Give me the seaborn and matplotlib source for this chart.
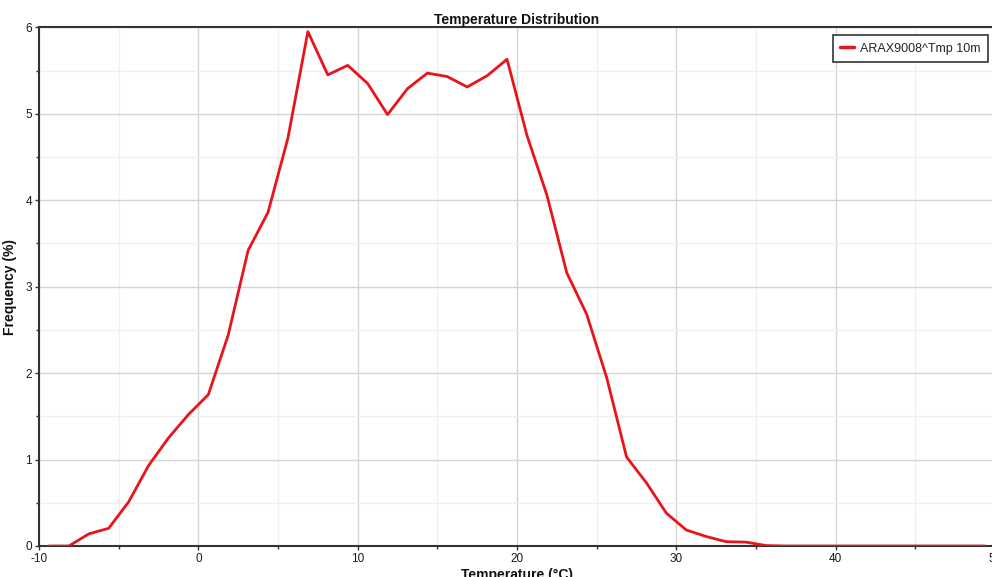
import numpy as np
import pandas as pd
import matplotlib
matplotlib.use("Agg")
import matplotlib.pyplot as plt
import seaborn as sns
from matplotlib.ticker import MultipleLocator

# Bin centres (°C) and frequencies (%)
temperature = [-9.375, -8.125, -6.875, -5.625, -4.375, -3.125, -1.875, -0.625,
               0.625, 1.875, 3.125, 4.375, 5.625, 6.875, 8.125, 9.375,
               10.625, 11.875, 13.125, 14.375, 15.625, 16.875, 18.125, 19.375,
               20.625, 21.875, 23.125, 24.375, 25.625, 26.875, 28.125, 29.375,
               30.625, 31.875, 33.125, 34.375, 35.625, 36.875, 38.125, 39.375,
               40.625, 41.875, 43.125, 44.375, 45.625, 46.875, 48.125, 49.375]
frequency = [0.0, 0.0, 0.14, 0.205, 0.51, 0.93, 1.25, 1.52,
             1.75, 2.44, 3.42, 3.86, 4.72, 5.95, 5.45, 5.56,
             5.35, 4.99, 5.29, 5.47, 5.43, 5.31, 5.44, 5.63,
             4.75, 4.06, 3.16, 2.68, 1.95, 1.03, 0.73, 0.38,
             0.185, 0.11, 0.05, 0.045, 0.005, 0.0, 0.0, 0.0,
             0.0, 0.0, 0.0, 0.0, 0.0, 0.0, 0.0, 0.0]
series_name = "ARAX9008^Tmp 10m"
x_ticks = [-10, 0, 10, 20, 30, 40, 50]
y_ticks = [0, 1, 2, 3, 4, 5, 6]

df = pd.DataFrame({"Temperature": temperature, "Frequency": frequency,
                   "Series": series_name})

sns.set_style("white")
plt.rcParams['font.family'] = ['Liberation Sans', 'DejaVu Sans']
plt.rcParams['axes.unicode_minus'] = False

fig = plt.figure(figsize=(9.92, 5.77), dpi=100)
ax = fig.add_axes([39 / 992, 31 / 577, (995 - 39) / 992, (546 - 27.3) / 577])

sns.lineplot(data=df, x="Temperature", y="Frequency", hue="Series",
             palette=["#e8141c"], linewidth=2.0, ax=ax, zorder=3)

ax.set_xlim(-10, 50)
ax.set_ylim(0, 6)
ax.set_xticks(x_ticks)
ax.set_yticks(y_ticks)
ax.xaxis.set_minor_locator(MultipleLocator(5))
ax.yaxis.set_minor_locator(MultipleLocator(0.5))

ax.grid(which="major", color="#d4d4d4", linewidth=1.0, zorder=0)
ax.grid(which="minor", color="#f0f0f0", linewidth=1.0, zorder=0)
ax.set_axisbelow(True)

for s in ["left", "bottom", "top"]:
    ax.spines[s].set_visible(True)
    ax.spines[s].set_color("#333333")
    ax.spines[s].set_linewidth(1.5)
ax.spines["right"].set_visible(False)

ax.tick_params(axis="both", which="major", direction="out", length=3,
               width=1, color="#333333", labelsize=8.5, labelcolor="#1a1a1a", pad=2,
               bottom=True, left=True)
ax.tick_params(axis="both", which="minor", direction="out", length=2,
               width=1, color="#333333", bottom=True, left=True)

ax.set_title("Temperature Distribution", fontsize=10, fontweight="bold",
             pad=2, color="#111111")
ax.set_xlabel("Temperature (°C)", fontsize=10, fontweight="bold", labelpad=2,
              color="#111111")
ax.set_ylabel("Frequency (%)", fontsize=10, fontweight="bold",
              color="#111111")
ax.yaxis.set_label_coords(-0.023, 0.5)

leg = ax.legend(loc="upper right", bbox_to_anchor=((988 - 39) / (995 - 39), 0.985),
                fontsize=9, frameon=True, fancybox=False, handlelength=1.1,
                borderpad=0.6, handletextpad=0.5, borderaxespad=0)
leg.get_frame().set_edgecolor("#333333")
leg.get_frame().set_linewidth(1.2)
leg.get_frame().set_alpha(1)
for line in leg.get_lines():
    line.set_linewidth(2.5)

fig.savefig("out.png", dpi=100)
